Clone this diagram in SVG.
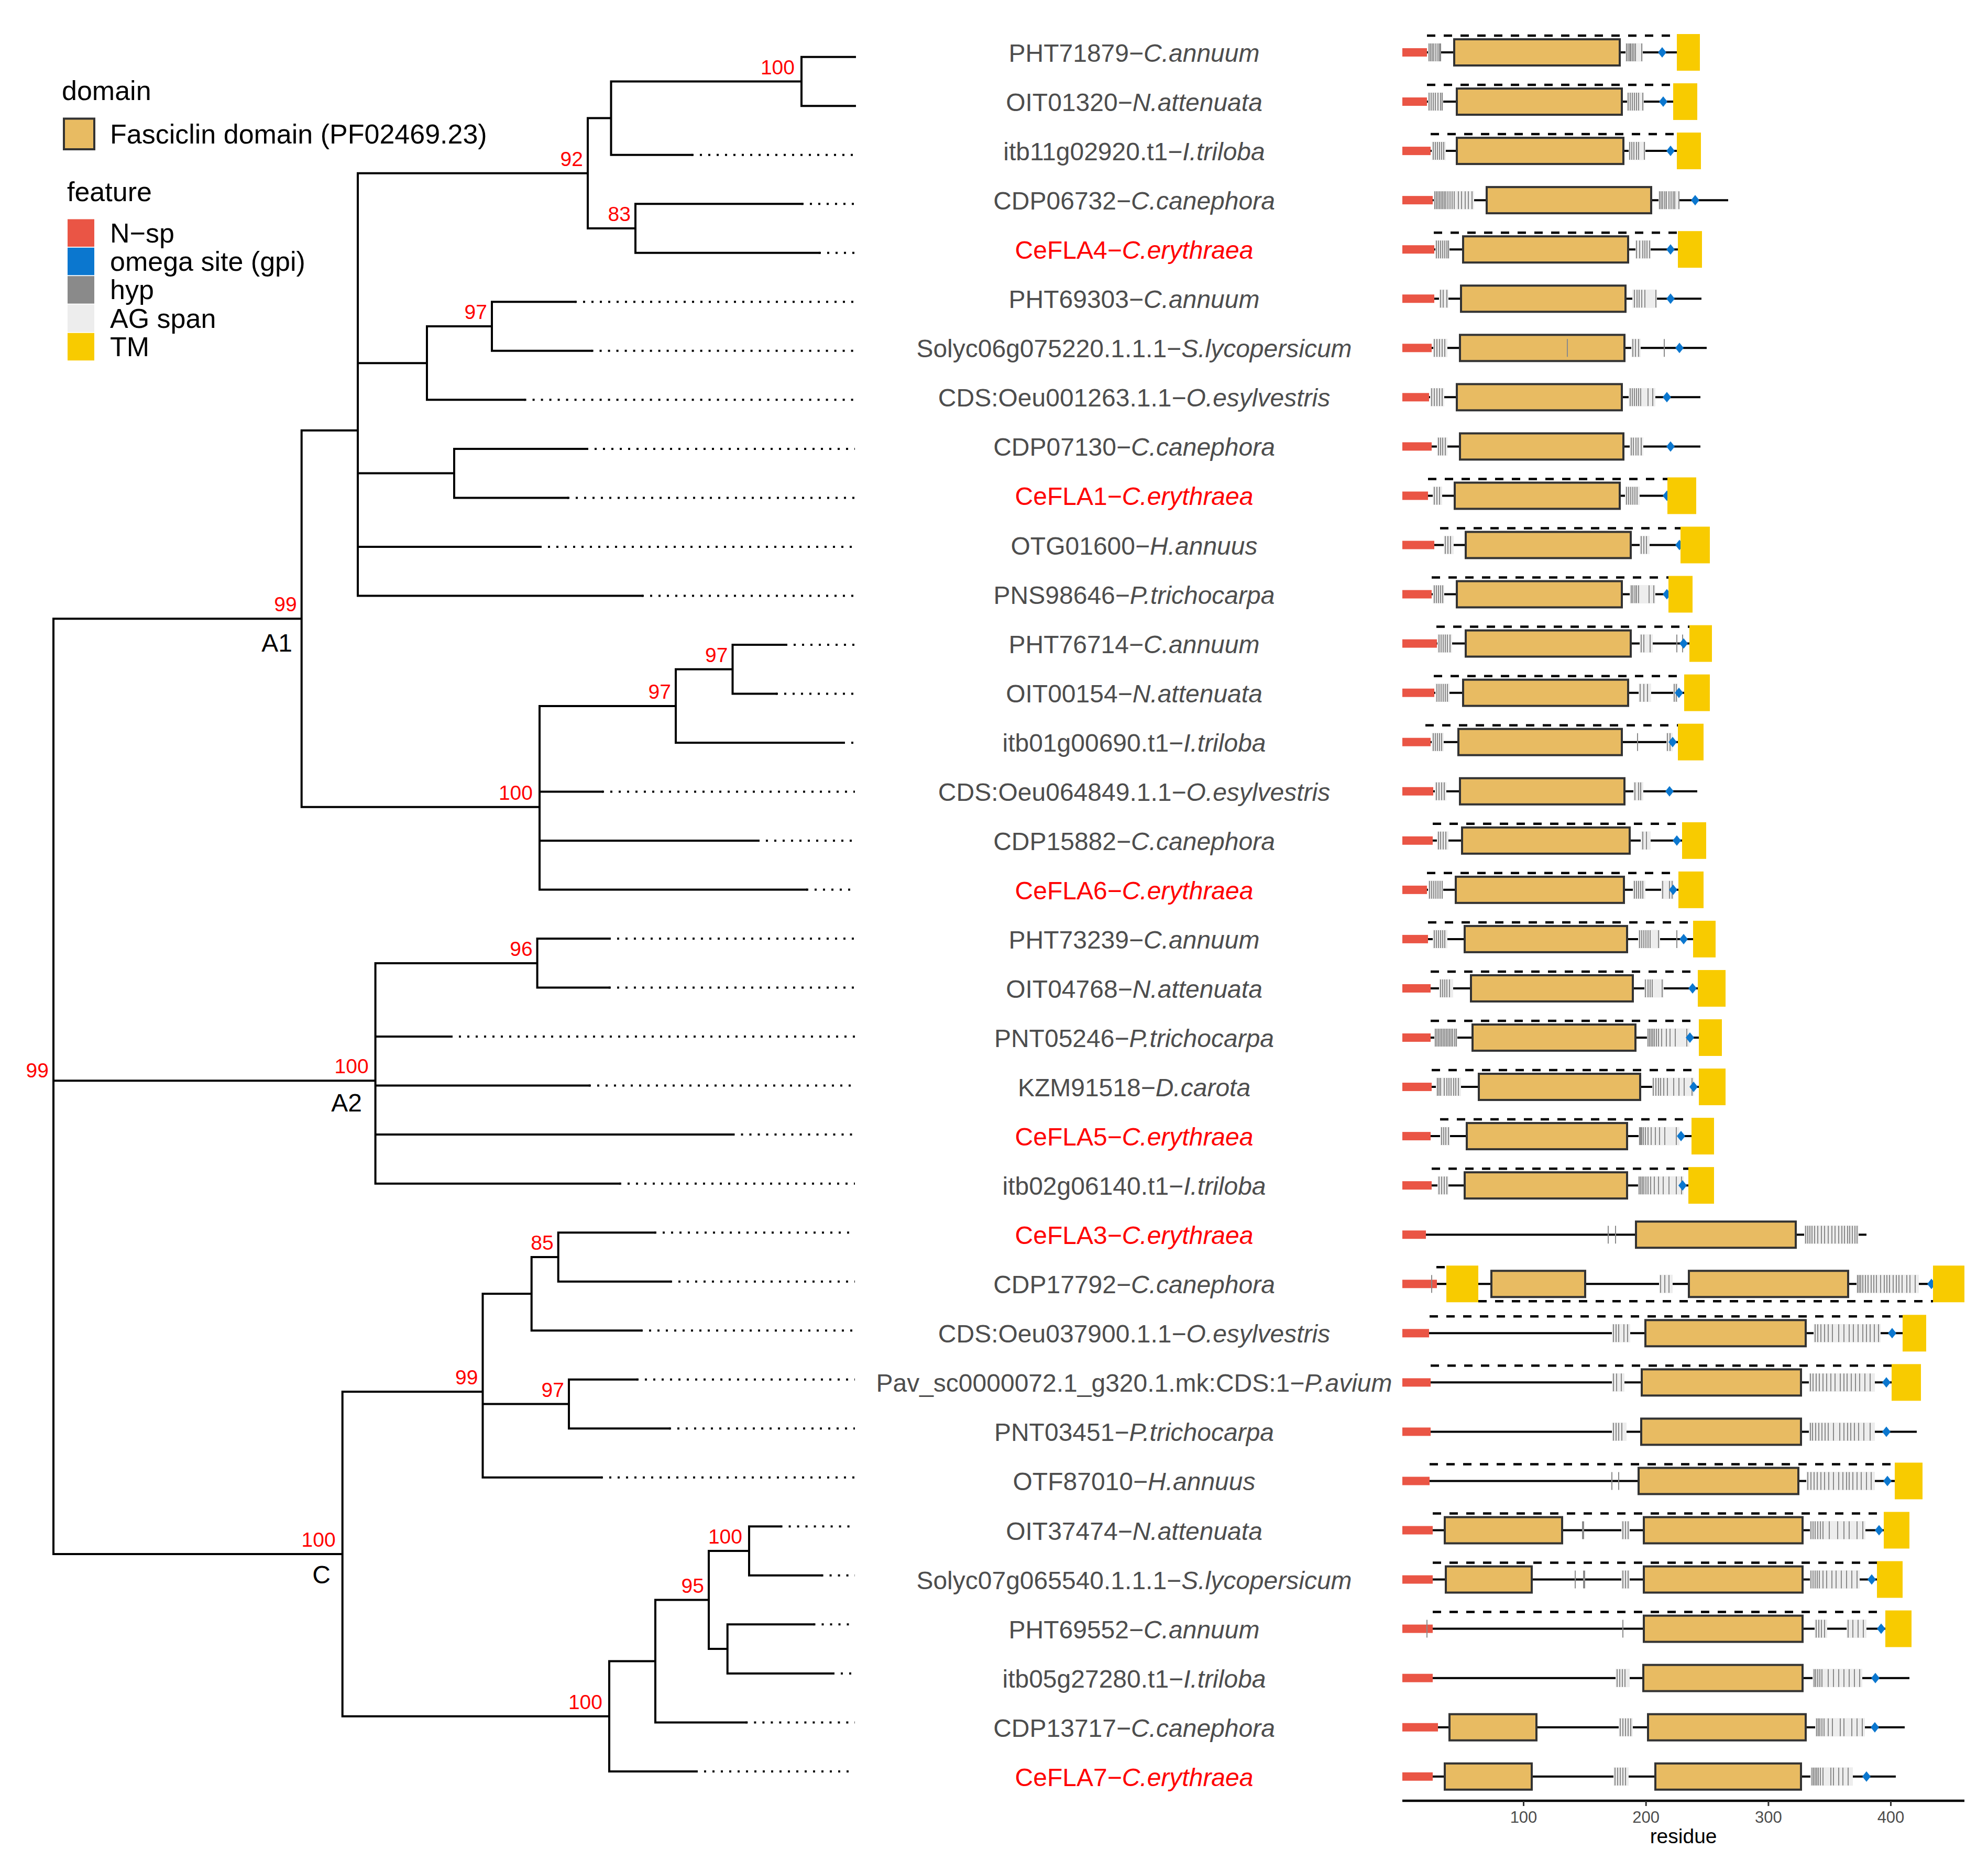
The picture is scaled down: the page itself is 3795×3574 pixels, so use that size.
<svg xmlns="http://www.w3.org/2000/svg" xmlns:xlink="http://www.w3.org/1999/xlink" width="3795" height="3574" viewBox="0 0 3795 3574">
<style>
text{font-family:"Liberation Sans",Arial,sans-serif}
.lab{font-size:48px;fill:#4D4D4D;text-anchor:middle}
.red{fill:#FF0000}
.it{font-style:italic}
.bb{stroke:#000;stroke-width:4;fill:none}
.ds{stroke:#000;stroke-width:4.5;stroke-dasharray:16 16;fill:none}
.nsp{fill:#EA5545}
.ag{fill:#EDEDED}
.hyp{stroke:#8A8A8A;stroke-width:2;fill:none}
.dom{fill:#E8BB62;stroke:#333;stroke-width:4}
.tm{fill:#F8CB00}
.br{stroke:#000;stroke-width:4;fill:none;stroke-linecap:square}
.dot{stroke:#000;stroke-width:4;fill:none;stroke-dasharray:4 12}
.bs{font-size:39px;fill:#FF0000;text-anchor:end}
.cl{font-size:48px;fill:#000;text-anchor:end}
.lg{font-size:52px;fill:#000}
.tk{font-size:31px;fill:#4D4D4D;text-anchor:middle}
</style>
<defs>
<path id="dia" d="M0-10L8 0L0 10L-8 0Z" fill="#0B77CF"/>
</defs>
<rect width="3795" height="3574" fill="#FFFFFF"/>

<g id="legend">
<text class="lg" x="118" y="191">domain</text>
<rect x="122" y="226.5" width="58" height="58.5" fill="#E8BB62" stroke="#333" stroke-width="4"/>
<text class="lg" x="210" y="274">Fasciclin domain (PF02469.23)</text>
<text class="lg" x="128" y="384">feature</text>
<rect x="129" y="418.5" width="51" height="52.5" fill="#EA5545"/>
<rect x="129" y="472.8" width="51" height="52.5" fill="#0B77CF"/>
<rect x="129" y="527.1" width="51" height="52.5" fill="#8A8A8A"/>
<rect x="129" y="581.4" width="51" height="52.5" fill="#EDEDED"/>
<rect x="129" y="635.7" width="51" height="52.5" fill="#F8CB00"/>
<text class="lg" x="210" y="463">N−sp</text>
<text class="lg" x="210" y="517">omega site (gpi)</text>
<text class="lg" x="210" y="571">hyp</text>
<text class="lg" x="210" y="625.5">AG span</text>
<text class="lg" x="210" y="679.5">TM</text>
</g>

<g id="connectors">
<path class="br" d="M102 1181.3V2966.9M102 1181.3H575.7M102 2063.3H716.6M102 2966.9H653.7M575.7 821.8V1540.7M575.7 821.8H683M575.7 1540.7H1030M683 330.8V1137.4M683 330.8H1122M683 693.2H815M683 903.6H867M683 1043.9H1030M683 1137.4H1225M1122 225.6V436M1122 225.6H1166.5M1122 436H1213M1166.5 155.5V295.7M1166.5 155.5H1530M1166.5 295.7H1320M1530 108.7V202.2M1530 108.7H1632M1530 202.2H1632M1213 389.3V482.8M1213 389.3H1530M1213 482.8H1563M815 623V763.3M815 623H939M815 763.3H1000.6M939 576.3V669.8M939 576.3H1097M939 669.8H1128.6M867 856.9V950.4M867 856.9H1119M867 950.4H1083M1030 1347.9V1698.5M1030 1347.9H1290M1030 1511.5H1149M1030 1605H1446M1030 1698.5H1539M1290 1277.7V1418M1290 1277.7H1398.5M1290 1418H1609M1398.5 1230.9V1324.5M1398.5 1230.9H1499M1398.5 1324.5H1481M716.6 1838.9V2259.7M716.6 1838.9H1025.6M716.6 1979.1H860M716.6 2072.6H1124M716.6 2166.1H1398.5M716.6 2259.7H1182M1025.6 1792.1V1885.6M1025.6 1792.1H1162M1025.6 1885.6H1162M653.7 2657.1V3276.7M653.7 2657.1H921.5M653.7 3276.7H1163M921.5 2470.1V2820.8M921.5 2470.1H1014.7M921.5 2680.5H1086M921.5 2820.8H1147M1014.7 2400V2540.2M1014.7 2400H1065.7M1014.7 2540.2H1223M1065.7 2353.2V2446.7M1065.7 2353.2H1249M1065.7 2446.7H1279M1086 2633.7V2727.3M1086 2633.7H1215M1086 2727.3H1277M1163 3171.5V3381.9M1163 3171.5H1251M1163 3381.9H1328M1251 3054.6V3288.4M1251 3054.6H1353M1251 3288.4H1423.4M1353 2961V3148.1M1353 2961H1430M1353 3148.1H1388.7M1430 2914.3V3007.8M1430 2914.3H1489.6M1430 3007.8H1567.6M1388.7 3101.3V3194.9M1388.7 3101.3H1552.5M1388.7 3194.9H1589"/>
<path class="dot" d="M1320 295.7H1632M1530 389.3H1632M1563 482.8H1632M1097 576.3H1632M1128.6 669.8H1632M1000.6 763.3H1632M1119 856.9H1632M1083 950.4H1632M1030 1043.9H1632M1225 1137.4H1632M1499 1230.9H1632M1481 1324.5H1632M1609 1418H1632M1149 1511.5H1632M1446 1605H1632M1539 1698.5H1632M1162 1792.1H1632M1162 1885.6H1632M860 1979.1H1632M1124 2072.6H1632M1398.5 2166.1H1632M1182 2259.7H1632M1249 2353.2H1632M1279 2446.7H1632M1223 2540.2H1632M1215 2633.7H1632M1277 2727.3H1632M1147 2820.8H1632M1489.6 2914.3H1632M1567.6 3007.8H1632M1552.5 3101.3H1632M1589 3194.9H1632M1423.4 3288.4H1632M1328 3381.9H1632"/>
</g>

<g id="support">
<text class="bs" x="1517" y="141.5">100</text>
<text class="bs" x="1113" y="316.8">92</text>
<text class="bs" x="1204" y="422">83</text>
<text class="bs" x="930" y="609">97</text>
<text class="bs" x="566.7" y="1167.3">99</text>
<text class="bs" x="1017" y="1526.7">100</text>
<text class="bs" x="1281" y="1333.9">97</text>
<text class="bs" x="1389.5" y="1263.7">97</text>
<text class="bs" x="1016.6" y="1824.9">96</text>
<text class="bs" x="703.6" y="2049.3">100</text>
<text class="bs" x="93" y="2056.5">99</text>
<text class="bs" x="1056.7" y="2386">85</text>
<text class="bs" x="912.5" y="2643.1">99</text>
<text class="bs" x="1077" y="2666.5">97</text>
<text class="bs" x="640.7" y="2952.9">100</text>
<text class="bs" x="1150" y="3262.7">100</text>
<text class="bs" x="1344" y="3040.6">95</text>
<text class="bs" x="1417" y="2947">100</text>
<text class="cl" x="558" y="1244">A1</text>
<text class="cl" x="691" y="2122">A2</text>
<text class="cl" x="631" y="3023">C</text>
</g>

<g id="r0" transform="translate(0,100)">
<text class="lab" x="2165" y="18">PHT71879−<tspan class="it">C.annuum</tspan></text>
<path class="bb" d="M2677 0H3245"/><path class="ds" d="M2724-32H3190"/>
<rect class="nsp" x="2677" y="-8" width="47" height="16"/>
<rect class="ag" x="2726" y="-17.5" width="25" height="35"/><rect class="ag" x="3103" y="-17.5" width="33" height="35"/>
<rect class="dom" x="2776" y="-25" width="316" height="50"/>
<path class="hyp" d="M2728-17v34M2731-17v34M2734-17v34M2737-17v34M2741-17v34M2745-17v34M2748-17v34M2750-17v34M3105-17v34M3108-17v34M3111-17v34M3113-17v34M3116-17v34M3119-17v34M3122-17v34M3134-17v34"/>
<use href="#dia" x="3173"/><rect class="tm" x="3201" y="-35" width="44" height="70"/>
</g>
<g id="r1" transform="translate(0,194.05)">
<text class="lab" x="2165" y="18">OIT01320−<tspan class="it">N.attenuata</tspan></text>
<path class="bb" d="M2677 0H3240"/><path class="ds" d="M2724-32H3190"/>
<rect class="nsp" x="2677" y="-8" width="47" height="16"/>
<rect class="ag" x="2726" y="-17.5" width="29" height="35"/><rect class="ag" x="3106" y="-17.5" width="32" height="35"/>
<rect class="dom" x="2781" y="-25" width="315" height="50"/>
<path class="hyp" d="M2728-17v34M2732-17v34M2736-17v34M2740-17v34M2745-17v34M2750-17v34M2753-17v34M3108-17v34M3112-17v34M3116-17v34M3120-17v34M3124-17v34M3128-17v34M3136-17v34"/>
<use href="#dia" x="3175"/><rect class="tm" x="3194" y="-35" width="46" height="70"/>
</g>
<g id="r2" transform="translate(0,288.1)">
<text class="lab" x="2165" y="18">itb11g02920.t1−<tspan class="it">I.triloba</tspan></text>
<path class="bb" d="M2677 0H3247"/><path class="ds" d="M2731-32H3196"/>
<rect class="nsp" x="2677" y="-8" width="54" height="16"/>
<rect class="ag" x="2733" y="-17.5" width="27" height="35"/><rect class="ag" x="3109" y="-17.5" width="32" height="35"/>
<rect class="dom" x="2781" y="-25" width="318" height="50"/>
<path class="hyp" d="M2736-17v34M2740-17v34M2744-17v34M2748-17v34M2752-17v34M2756-17v34M3111-17v34M3115-17v34M3119-17v34M3124-17v34M3128-17v34M3139-17v34"/>
<use href="#dia" x="3189"/><rect class="tm" x="3201" y="-35" width="46" height="70"/>
</g>
<g id="r3" transform="translate(0,382.15)">
<text class="lab" x="2165" y="18">CDP06732−<tspan class="it">C.canephora</tspan></text>
<path class="bb" d="M2677 0H3299"/>
<rect class="nsp" x="2677" y="-8" width="58" height="16"/>
<rect class="ag" x="2737" y="-17.5" width="77" height="35"/><rect class="ag" x="3166" y="-17.5" width="40" height="35"/>
<rect class="dom" x="2838" y="-25" width="314" height="50"/>
<path class="hyp" d="M2739-17v34M2742-17v34M2745-17v34M2748-17v34M2751-17v34M2754-17v34M2757-17v34M2760-17v34M2764-17v34M2768-17v34M2772-17v34M2776-17v34M2784-17v34M2790-17v34M2797-17v34M2803-17v34M2810-17v34M3168-17v34M3171-17v34M3174-17v34M3178-17v34M3181-17v34M3186-17v34M3190-17v34M3194-17v34M3197-17v34M3205-17v34"/>
<use href="#dia" x="3236"/>
</g>
<g id="r4" transform="translate(0,476.2)">
<text class="lab red" x="2165" y="18">CeFLA4−<tspan class="it">C.erythraea</tspan></text>
<path class="bb" d="M2677 0H3249"/><path class="ds" d="M2737-32H3201"/>
<rect class="nsp" x="2677" y="-8" width="61" height="16"/>
<rect class="ag" x="2740" y="-17.5" width="27" height="35"/><rect class="ag" x="3122" y="-17.5" width="29" height="35"/>
<rect class="dom" x="2793" y="-25" width="315" height="50"/>
<path class="hyp" d="M2742-17v34M2746-17v34M2750-17v34M2754-17v34M2758-17v34M2762-17v34M2765-17v34M3124-17v34M3130-17v34M3136-17v34M3140-17v34M3144-17v34M3149-17v34"/>
<use href="#dia" x="3189"/><rect class="tm" x="3203" y="-35" width="46" height="70"/>
</g>
<g id="r5" transform="translate(0,570.25)">
<text class="lab" x="2165" y="18">PHT69303−<tspan class="it">C.annuum</tspan></text>
<path class="bb" d="M2677 0H3248"/>
<rect class="nsp" x="2677" y="-8" width="61" height="16"/>
<rect class="ag" x="2747" y="-17.5" width="18" height="35"/><rect class="ag" x="3116" y="-17.5" width="47" height="35"/>
<rect class="dom" x="2789" y="-25" width="314" height="50"/>
<path class="hyp" d="M2750-17v34M2755-17v34M2762-17v34M3120-17v34M3125-17v34M3129-17v34M3134-17v34M3140-17v34M3161-17v34"/>
<use href="#dia" x="3189"/>
</g>
<g id="r6" transform="translate(0,664.3)">
<text class="lab" x="2165" y="18">Solyc06g075220.1.1.1−<tspan class="it">S.lycopersicum</tspan></text>
<path class="bb" d="M2677 0H3258"/>
<rect class="nsp" x="2677" y="-8" width="56" height="16"/>
<rect class="ag" x="2736" y="-17.5" width="27" height="35"/><rect class="ag" x="3114" y="-17.5" width="18" height="35"/>
<rect class="dom" x="2787" y="-25" width="314" height="50"/>
<path class="hyp" d="M2738-17v34M2743-17v34M2748-17v34M2753-17v34M2758-17v34M2992-17v34M3117-17v34M3122-17v34M3128-17v34M3177-17v34"/>
<use href="#dia" x="3206"/>
</g>
<g id="r7" transform="translate(0,758.35)">
<text class="lab" x="2165" y="18">CDS:Oeu001263.1.1−<tspan class="it">O.esylvestris</tspan></text>
<path class="bb" d="M2677 0H3246"/>
<rect class="nsp" x="2677" y="-8" width="51" height="16"/>
<rect class="ag" x="2730" y="-17.5" width="27" height="35"/><rect class="ag" x="3109" y="-17.5" width="51" height="35"/>
<rect class="dom" x="2781" y="-25" width="315" height="50"/>
<path class="hyp" d="M2733-17v34M2738-17v34M2743-17v34M2748-17v34M2753-17v34M3112-17v34M3116-17v34M3120-17v34M3124-17v34M3128-17v34M3132-17v34M3146-17v34M3155-17v34"/>
<use href="#dia" x="3182"/>
</g>
<g id="r8" transform="translate(0,852.4)">
<text class="lab" x="2165" y="18">CDP07130−<tspan class="it">C.canephora</tspan></text>
<path class="bb" d="M2677 0H3246"/>
<rect class="nsp" x="2677" y="-8" width="56" height="16"/>
<rect class="ag" x="2743" y="-17.5" width="20" height="35"/><rect class="ag" x="3111" y="-17.5" width="26" height="35"/>
<rect class="dom" x="2787" y="-25" width="312" height="50"/>
<path class="hyp" d="M2746-17v34M2750-17v34M2754-17v34M2759-17v34M3114-17v34M3118-17v34M3123-17v34M3127-17v34M3133-17v34"/>
<use href="#dia" x="3189"/>
</g>
<g id="r9" transform="translate(0,946.45)">
<text class="lab red" x="2165" y="18">CeFLA1−<tspan class="it">C.erythraea</tspan></text>
<path class="bb" d="M2677 0H3238"/><path class="ds" d="M2726-32H3185"/>
<rect class="nsp" x="2677" y="-8" width="49" height="16"/>
<rect class="ag" x="2735" y="-17.5" width="18" height="35"/><rect class="ag" x="3102" y="-17.5" width="28" height="35"/>
<rect class="dom" x="2777" y="-25" width="315" height="50"/>
<path class="hyp" d="M2738-17v34M2743-17v34M2748-17v34M3105-17v34M3109-17v34M3113-17v34M3117-17v34M3121-17v34M3125-17v34"/>
<use href="#dia" x="3182"/><rect class="tm" x="3183" y="-35" width="55" height="70"/>
</g>
<g id="r10" transform="translate(0,1040.5)">
<text class="lab" x="2165" y="18">OTG01600−<tspan class="it">H.annuus</tspan></text>
<path class="bb" d="M2677 0H3264"/><path class="ds" d="M2749-32H3211"/>
<rect class="nsp" x="2677" y="-8" width="61" height="16"/>
<rect class="ag" x="2756" y="-17.5" width="19" height="35"/><rect class="ag" x="3130" y="-17.5" width="19" height="35"/>
<rect class="dom" x="2798" y="-25" width="315" height="50"/>
<path class="hyp" d="M2759-17v34M2764-17v34M2769-17v34M3133-17v34M3138-17v34M3143-17v34"/>
<use href="#dia" x="3206"/><rect class="tm" x="3208" y="-35" width="56" height="70"/>
</g>
<g id="r11" transform="translate(0,1134.55)">
<text class="lab" x="2165" y="18">PNS98646−<tspan class="it">P.trichocarpa</tspan></text>
<path class="bb" d="M2677 0H3231"/><path class="ds" d="M2733-32H3187"/>
<rect class="nsp" x="2677" y="-8" width="56" height="16"/>
<rect class="ag" x="2735" y="-17.5" width="22" height="35"/><rect class="ag" x="3111" y="-17.5" width="49" height="35"/>
<rect class="dom" x="2781" y="-25" width="315" height="50"/>
<path class="hyp" d="M2738-17v34M2742-17v34M2746-17v34M2750-17v34M2754-17v34M3114-17v34M3117-17v34M3121-17v34M3124-17v34M3128-17v34M3148-17v34M3157-17v34"/>
<use href="#dia" x="3182"/><rect class="tm" x="3185" y="-35" width="46" height="70"/>
</g>
<g id="r12" transform="translate(0,1228.6)">
<text class="lab" x="2165" y="18">PHT76714−<tspan class="it">C.annuum</tspan></text>
<path class="bb" d="M2677 0H3268"/><path class="ds" d="M2742-32H3227"/>
<rect class="nsp" x="2677" y="-8" width="66" height="16"/>
<rect class="ag" x="2744" y="-17.5" width="28" height="35"/><rect class="ag" x="3130" y="-17.5" width="25" height="35"/>
<rect class="dom" x="2798" y="-25" width="315" height="50"/>
<path class="hyp" d="M2747-17v34M2751-17v34M2755-17v34M2759-17v34M2763-17v34M2768-17v34M3133-17v34M3138-17v34M3150-17v34M3201-17v34M3212-17v34"/>
<use href="#dia" x="3214"/><rect class="tm" x="3225" y="-35" width="43" height="70"/>
</g>
<g id="r13" transform="translate(0,1322.65)">
<text class="lab" x="2165" y="18">OIT00154−<tspan class="it">N.attenuata</tspan></text>
<path class="bb" d="M2677 0H3264"/><path class="ds" d="M2737-32H3203"/>
<rect class="nsp" x="2677" y="-8" width="61" height="16"/>
<rect class="ag" x="2740" y="-17.5" width="27" height="35"/><rect class="ag" x="3128" y="-17.5" width="24" height="35"/><rect class="ag" x="3194" y="-17.5" width="9" height="35"/>
<rect class="dom" x="2793" y="-25" width="315" height="50"/>
<path class="hyp" d="M2743-17v34M2747-17v34M2751-17v34M2755-17v34M2759-17v34M2763-17v34M3131-17v34M3138-17v34M3145-17v34M3196-17v34M3200-17v34"/>
<use href="#dia" x="3205"/><rect class="tm" x="3215" y="-35" width="49" height="70"/>
</g>
<g id="r14" transform="translate(0,1416.7)">
<text class="lab" x="2165" y="18">itb01g00690.t1−<tspan class="it">I.triloba</tspan></text>
<path class="bb" d="M2677 0H3252"/><path class="ds" d="M2721-32H3205"/>
<rect class="nsp" x="2677" y="-8" width="54" height="16"/>
<rect class="ag" x="2733" y="-17.5" width="23" height="35"/><rect class="ag" x="3181" y="-17.5" width="12" height="35"/>
<rect class="dom" x="2784" y="-25" width="312" height="50"/>
<path class="hyp" d="M2736-17v34M2740-17v34M2744-17v34M2748-17v34M2752-17v34M3126-17v34M3183-17v34M3188-17v34"/>
<use href="#dia" x="3193"/><rect class="tm" x="3203" y="-35" width="49" height="70"/>
</g>
<g id="r15" transform="translate(0,1510.75)">
<text class="lab" x="2165" y="18">CDS:Oeu064849.1.1−<tspan class="it">O.esylvestris</tspan></text>
<path class="bb" d="M2677 0H3240"/>
<rect class="nsp" x="2677" y="-8" width="59" height="16"/>
<rect class="ag" x="2739" y="-17.5" width="22" height="35"/><rect class="ag" x="3118" y="-17.5" width="19" height="35"/>
<rect class="dom" x="2787" y="-25" width="314" height="50"/>
<path class="hyp" d="M2742-17v34M2747-17v34M2752-17v34M2757-17v34M3121-17v34M3128-17v34M3132-17v34"/>
<use href="#dia" x="3187"/>
</g>
<g id="r16" transform="translate(0,1604.8)">
<text class="lab" x="2165" y="18">CDP15882−<tspan class="it">C.canephora</tspan></text>
<path class="bb" d="M2677 0H3257"/><path class="ds" d="M2735-32H3201"/>
<rect class="nsp" x="2677" y="-8" width="58" height="16"/>
<rect class="ag" x="2743" y="-17.5" width="22" height="35"/><rect class="ag" x="3132" y="-17.5" width="19" height="35"/>
<rect class="dom" x="2791" y="-25" width="320" height="50"/>
<path class="hyp" d="M2746-17v34M2750-17v34M2755-17v34M2760-17v34M3136-17v34M3143-17v34"/>
<use href="#dia" x="3201"/><rect class="tm" x="3211" y="-35" width="46" height="70"/>
</g>
<g id="r17" transform="translate(0,1698.85)">
<text class="lab red" x="2165" y="18">CeFLA6−<tspan class="it">C.erythraea</tspan></text>
<path class="bb" d="M2677 0H3252"/><path class="ds" d="M2724-32H3205"/>
<rect class="nsp" x="2677" y="-8" width="47" height="16"/>
<rect class="ag" x="2726" y="-17.5" width="29" height="35"/><rect class="ag" x="3117" y="-17.5" width="24" height="35"/><rect class="ag" x="3171" y="-17.5" width="24" height="35"/>
<rect class="dom" x="2779" y="-25" width="321" height="50"/>
<path class="hyp" d="M2729-17v34M2733-17v34M2737-17v34M2741-17v34M2745-17v34M2749-17v34M2753-17v34M3120-17v34M3124-17v34M3128-17v34M3132-17v34M3136-17v34M3174-17v34M3187-17v34M3192-17v34"/>
<use href="#dia" x="3194"/><rect class="tm" x="3204" y="-35" width="48" height="70"/>
</g>
<g id="r18" transform="translate(0,1792.9)">
<text class="lab" x="2165" y="18">PHT73239−<tspan class="it">C.annuum</tspan></text>
<path class="bb" d="M2677 0H3275"/><path class="ds" d="M2726-32H3223"/>
<rect class="nsp" x="2677" y="-8" width="49" height="16"/>
<rect class="ag" x="2735" y="-17.5" width="28" height="35"/><rect class="ag" x="3127" y="-17.5" width="42" height="35"/>
<rect class="dom" x="2796" y="-25" width="310" height="50"/>
<path class="hyp" d="M2738-17v34M2742-17v34M2746-17v34M2750-17v34M2754-17v34M2758-17v34M3130-17v34M3134-17v34M3138-17v34M3142-17v34M3146-17v34M3150-17v34M3166-17v34M3201-17v34"/>
<use href="#dia" x="3214"/><rect class="tm" x="3232" y="-35" width="43" height="70"/>
</g>
<g id="r19" transform="translate(0,1886.95)">
<text class="lab" x="2165" y="18">OIT04768−<tspan class="it">N.attenuata</tspan></text>
<path class="bb" d="M2677 0H3294"/><path class="ds" d="M2731-32H3241"/>
<rect class="nsp" x="2677" y="-8" width="54" height="16"/>
<rect class="ag" x="2747" y="-17.5" width="27" height="35"/><rect class="ag" x="3139" y="-17.5" width="37" height="35"/>
<rect class="dom" x="2808" y="-25" width="309" height="50"/>
<path class="hyp" d="M2750-17v34M2754-17v34M2758-17v34M2762-17v34M2767-17v34M3141-17v34M3146-17v34M3150-17v34M3154-17v34M3173-17v34"/>
<use href="#dia" x="3231"/><rect class="tm" x="3241" y="-35" width="53" height="70"/>
</g>
<g id="r20" transform="translate(0,1981)">
<text class="lab" x="2165" y="18">PNT05246−<tspan class="it">P.trichocarpa</tspan></text>
<path class="bb" d="M2677 0H3287"/><path class="ds" d="M2731-32H3245"/>
<rect class="nsp" x="2677" y="-8" width="54" height="16"/>
<rect class="ag" x="2738" y="-17.5" width="44" height="35"/><rect class="ag" x="3144" y="-17.5" width="81" height="35"/>
<rect class="dom" x="2811" y="-25" width="311" height="50"/>
<path class="hyp" d="M2740-17v34M2743-17v34M2746-17v34M2749-17v34M2752-17v34M2755-17v34M2758-17v34M2761-17v34M2764-17v34M2767-17v34M2770-17v34M2773-17v34M2777-17v34M2780-17v34M3146-17v34M3149-17v34M3152-17v34M3155-17v34M3158-17v34M3162-17v34M3166-17v34M3172-17v34M3181-17v34M3188-17v34M3198-17v34M3220-17v34"/>
<use href="#dia" x="3226"/><rect class="tm" x="3243" y="-35" width="44" height="70"/>
</g>
<g id="r21" transform="translate(0,2075.05)">
<text class="lab" x="2165" y="18">KZM91518−<tspan class="it">D.carota</tspan></text>
<path class="bb" d="M2677 0H3294"/><path class="ds" d="M2733-32H3231"/>
<rect class="nsp" x="2677" y="-8" width="56" height="16"/>
<rect class="ag" x="2741" y="-17.5" width="48" height="35"/><rect class="ag" x="3154" y="-17.5" width="80" height="35"/>
<rect class="dom" x="2823" y="-25" width="308" height="50"/>
<path class="hyp" d="M2744-17v34M2747-17v34M2750-17v34M2757-17v34M2762-17v34M2766-17v34M2770-17v34M2775-17v34M2779-17v34M2784-17v34M3156-17v34M3161-17v34M3166-17v34M3170-17v34M3176-17v34M3183-17v34M3195-17v34M3205-17v34M3215-17v34M3230-17v34"/>
<use href="#dia" x="3233"/><rect class="tm" x="3243" y="-35" width="51" height="70"/>
</g>
<g id="r22" transform="translate(0,2169.1)">
<text class="lab red" x="2165" y="18">CeFLA5−<tspan class="it">C.erythraea</tspan></text>
<path class="bb" d="M2677 0H3272"/><path class="ds" d="M2749-32H3214"/>
<rect class="nsp" x="2677" y="-8" width="54" height="16"/>
<rect class="ag" x="2749" y="-17.5" width="19" height="35"/><rect class="ag" x="3128" y="-17.5" width="78" height="35"/>
<rect class="dom" x="2800" y="-25" width="306" height="50"/>
<path class="hyp" d="M2752-17v34M2756-17v34M2760-17v34M2765-17v34M3130-17v34M3132-17v34M3134-17v34M3137-17v34M3141-17v34M3146-17v34M3152-17v34M3160-17v34M3168-17v34M3178-17v34M3200-17v34"/>
<use href="#dia" x="3209"/><rect class="tm" x="3229" y="-35" width="43" height="70"/>
</g>
<g id="r23" transform="translate(0,2263.15)">
<text class="lab" x="2165" y="18">itb02g06140.t1−<tspan class="it">I.triloba</tspan></text>
<path class="bb" d="M2677 0H3272"/><path class="ds" d="M2733-32H3223"/>
<rect class="nsp" x="2677" y="-8" width="56" height="16"/>
<rect class="ag" x="2744" y="-17.5" width="21" height="35"/><rect class="ag" x="3127" y="-17.5" width="87" height="35"/>
<rect class="dom" x="2796" y="-25" width="310" height="50"/>
<path class="hyp" d="M2747-17v34M2752-17v34M2757-17v34M2762-17v34M3129-17v34M3132-17v34M3135-17v34M3138-17v34M3142-17v34M3146-17v34M3151-17v34M3158-17v34M3166-17v34M3175-17v34M3186-17v34M3200-17v34M3210-17v34"/>
<use href="#dia" x="3212"/><rect class="tm" x="3223" y="-35" width="49" height="70"/>
</g>
<g id="r24" transform="translate(0,2357.2)">
<text class="lab red" x="2165" y="18">CeFLA3−<tspan class="it">C.erythraea</tspan></text>
<path class="bb" d="M2677 0H3563"/>
<rect class="nsp" x="2677" y="-8" width="45" height="16"/>
<rect class="ag" x="3444" y="-17.5" width="104" height="35"/>
<rect class="dom" x="3123" y="-25" width="305" height="50"/>
<path class="hyp" d="M3070-17v34M3084-17v34M3447-17v34M3451-17v34M3455-17v34M3459-17v34M3464-17v34M3470-17v34M3477-17v34M3483-17v34M3490-17v34M3497-17v34M3503-17v34M3510-17v34M3516-17v34M3521-17v34M3527-17v34M3531-17v34M3536-17v34M3541-17v34M3545-17v34"/>
</g>
<g id="r25" transform="translate(0,2451.25)">
<text class="lab" x="2165" y="18">CDP17792−<tspan class="it">C.canephora</tspan></text>
<path class="bb" d="M2677 0H3750"/><path class="ds" d="M2742-32H2758M2822 33H3690"/>
<rect class="nsp" x="2677" y="-8" width="66" height="16"/>
<rect class="ag" x="3167" y="-17.5" width="26" height="35"/><rect class="ag" x="3544" y="-17.5" width="119" height="35"/>
<rect class="dom" x="2847" y="-25" width="179" height="50"/><rect class="dom" x="3224" y="-25" width="304" height="50"/>
<path class="hyp" d="M2733-17v34M3170-17v34M3178-17v34M3186-17v34M3546-17v34M3549-17v34M3552-17v34M3556-17v34M3561-17v34M3566-17v34M3572-17v34M3577-17v34M3582-17v34M3590-17v34M3597-17v34M3602-17v34M3607-17v34M3614-17v34M3620-17v34M3625-17v34M3631-17v34M3640-17v34M3646-17v34M3656-17v34"/>
<rect class="tm" x="2761" y="-35" width="61" height="70"/>
<use href="#dia" x="3687"/><rect class="tm" x="3690" y="-35" width="60" height="70"/>
</g>
<g id="r26" transform="translate(0,2545.3)">
<text class="lab" x="2165" y="18">CDS:Oeu037900.1.1−<tspan class="it">O.esylvestris</tspan></text>
<path class="bb" d="M2677 0H3677"/><path class="ds" d="M2729-32H3632"/>
<rect class="nsp" x="2677" y="-8" width="51" height="16"/>
<rect class="ag" x="3077" y="-17.5" width="35" height="35"/><rect class="ag" x="3462" y="-17.5" width="128" height="35"/>
<rect class="dom" x="3141" y="-25" width="306" height="50"/>
<path class="hyp" d="M3080-17v34M3085-17v34M3090-17v34M3100-17v34M3107-17v34M3465-17v34M3470-17v34M3476-17v34M3483-17v34M3490-17v34M3498-17v34M3510-17v34M3520-17v34M3530-17v34M3538-17v34M3547-17v34M3556-17v34M3563-17v34M3570-17v34M3578-17v34M3586-17v34"/>
<use href="#dia" x="3612"/><rect class="tm" x="3632" y="-35" width="45" height="70"/>
</g>
<g id="r27" transform="translate(0,2639.35)">
<text class="lab" x="2165" y="18">Pav_sc0000072.1_g320.1.mk:CDS:1−<tspan class="it">P.avium</tspan></text>
<path class="bb" d="M2677 0H3667"/><path class="ds" d="M2731-32H3611"/>
<rect class="nsp" x="2677" y="-8" width="54" height="16"/>
<rect class="ag" x="3077" y="-17.5" width="24" height="35"/><rect class="ag" x="3453" y="-17.5" width="126" height="35"/>
<rect class="dom" x="3134" y="-25" width="304" height="50"/>
<path class="hyp" d="M3080-17v34M3086-17v34M3095-17v34M3456-17v34M3461-17v34M3467-17v34M3473-17v34M3480-17v34M3487-17v34M3495-17v34M3503-17v34M3513-17v34M3520-17v34M3526-17v34M3534-17v34M3542-17v34M3550-17v34M3560-17v34M3570-17v34"/>
<use href="#dia" x="3601"/><rect class="tm" x="3611" y="-35" width="56" height="70"/>
</g>
<g id="r28" transform="translate(0,2733.4)">
<text class="lab" x="2165" y="18">PNT03451−<tspan class="it">P.trichocarpa</tspan></text>
<path class="bb" d="M2677 0H3659"/>
<rect class="nsp" x="2677" y="-8" width="54" height="16"/>
<rect class="ag" x="3077" y="-17.5" width="28" height="35"/><rect class="ag" x="3453" y="-17.5" width="126" height="35"/>
<rect class="dom" x="3133" y="-25" width="305" height="50"/>
<path class="hyp" d="M3080-17v34M3085-17v34M3090-17v34M3096-17v34M3456-17v34M3460-17v34M3466-17v34M3472-17v34M3478-17v34M3484-17v34M3490-17v34M3500-17v34M3512-17v34M3520-17v34M3527-17v34M3533-17v34M3540-17v34M3548-17v34M3558-17v34M3570-17v34"/>
<use href="#dia" x="3601"/>
</g>
<g id="r29" transform="translate(0,2827.45)">
<text class="lab" x="2165" y="18">OTF87010−<tspan class="it">H.annuus</tspan></text>
<path class="bb" d="M2677 0H3670"/><path class="ds" d="M2729-32H3617"/>
<rect class="nsp" x="2677" y="-8" width="52" height="16"/>
<rect class="ag" x="3448" y="-17.5" width="131" height="35"/>
<rect class="dom" x="3128" y="-25" width="305" height="50"/>
<path class="hyp" d="M3077-17v34M3090-17v34M3451-17v34M3457-17v34M3463-17v34M3469-17v34M3476-17v34M3483-17v34M3491-17v34M3500-17v34M3510-17v34M3518-17v34M3525-17v34M3530-17v34M3537-17v34M3545-17v34M3553-17v34M3563-17v34M3572-17v34"/>
<use href="#dia" x="3603"/><rect class="tm" x="3617" y="-35" width="53" height="70"/>
</g>
<g id="r30" transform="translate(0,2921.5)">
<text class="lab" x="2165" y="18">OIT37474−<tspan class="it">N.attenuata</tspan></text>
<path class="bb" d="M2677 0H3645"/><path class="ds" d="M2735-32H3596"/>
<rect class="nsp" x="2677" y="-8" width="58" height="16"/>
<rect class="ag" x="3095" y="-17.5" width="16" height="35"/><rect class="ag" x="3455" y="-17.5" width="106" height="35"/>
<rect class="dom" x="2758" y="-25" width="224" height="50"/><rect class="dom" x="3138" y="-25" width="303" height="50"/>
<path class="hyp" d="M3021-17v34M3023-17v34M3098-17v34M3103-17v34M3108-17v34M3457-17v34M3461-17v34M3465-17v34M3470-17v34M3475-17v34M3480-17v34M3492-17v34M3508-17v34M3520-17v34M3530-17v34M3545-17v34M3556-17v34"/>
<use href="#dia" x="3587"/><rect class="tm" x="3596" y="-35" width="49" height="70"/>
</g>
<g id="r31" transform="translate(0,3015.55)">
<text class="lab" x="2165" y="18">Solyc07g065540.1.1.1−<tspan class="it">S.lycopersicum</tspan></text>
<path class="bb" d="M2677 0H3632"/><path class="ds" d="M2735-32H3583"/>
<rect class="nsp" x="2677" y="-8" width="58" height="16"/>
<rect class="ag" x="3095" y="-17.5" width="16" height="35"/><rect class="ag" x="3455" y="-17.5" width="95" height="35"/>
<rect class="dom" x="2760" y="-25" width="164" height="50"/><rect class="dom" x="3138" y="-25" width="303" height="50"/>
<path class="hyp" d="M3007-17v34M3023-17v34M3025-17v34M3098-17v34M3103-17v34M3108-17v34M3457-17v34M3461-17v34M3465-17v34M3469-17v34M3473-17v34M3480-17v34M3487-17v34M3497-17v34M3505-17v34M3515-17v34M3525-17v34M3535-17v34M3545-17v34"/>
<use href="#dia" x="3573"/><rect class="tm" x="3583" y="-35" width="49" height="70"/>
</g>
<g id="r32" transform="translate(0,3109.6)">
<text class="lab" x="2165" y="18">PHT69552−<tspan class="it">C.annuum</tspan></text>
<path class="bb" d="M2677 0H3649"/><path class="ds" d="M2735-32H3599"/>
<rect class="nsp" x="2677" y="-8" width="58" height="16"/>
<rect class="ag" x="3464" y="-17.5" width="24" height="35"/><rect class="ag" x="3525" y="-17.5" width="38" height="35"/>
<rect class="dom" x="3138" y="-25" width="303" height="50"/>
<path class="hyp" d="M2724-17v34M3098-17v34M3467-17v34M3472-17v34M3477-17v34M3483-17v34M3528-17v34M3537-17v34M3547-17v34M3557-17v34"/>
<use href="#dia" x="3591"/><rect class="tm" x="3599" y="-35" width="50" height="70"/>
</g>
<g id="r33" transform="translate(0,3203.65)">
<text class="lab" x="2165" y="18">itb05g27280.t1−<tspan class="it">I.triloba</tspan></text>
<path class="bb" d="M2677 0H3645"/>
<rect class="nsp" x="2677" y="-8" width="58" height="16"/>
<rect class="ag" x="3084" y="-17.5" width="27" height="35"/><rect class="ag" x="3460" y="-17.5" width="95" height="35"/>
<rect class="dom" x="3137" y="-25" width="304" height="50"/>
<path class="hyp" d="M3087-17v34M3092-17v34M3097-17v34M3102-17v34M3463-17v34M3466-17v34M3470-17v34M3474-17v34M3478-17v34M3490-17v34M3500-17v34M3510-17v34M3520-17v34M3530-17v34M3540-17v34M3550-17v34"/>
<use href="#dia" x="3580"/>
</g>
<g id="r34" transform="translate(0,3297.7)">
<text class="lab" x="2165" y="18">CDP13717−<tspan class="it">C.canephora</tspan></text>
<path class="bb" d="M2677 0H3636"/>
<rect class="nsp" x="2677" y="-8" width="68" height="16"/>
<rect class="ag" x="3090" y="-17.5" width="27" height="35"/><rect class="ag" x="3465" y="-17.5" width="95" height="35"/>
<rect class="dom" x="2767" y="-25" width="166" height="50"/><rect class="dom" x="3146" y="-25" width="301" height="50"/>
<path class="hyp" d="M3093-17v34M3098-17v34M3103-17v34M3108-17v34M3113-17v34M3468-17v34M3471-17v34M3474-17v34M3478-17v34M3482-17v34M3490-17v34M3498-17v34M3513-17v34M3520-17v34M3535-17v34M3545-17v34M3555-17v34"/>
<use href="#dia" x="3579"/>
</g>
<g id="r35" transform="translate(0,3391.75)">
<text class="lab red" x="2165" y="18">CeFLA7−<tspan class="it">C.erythraea</tspan></text>
<path class="bb" d="M2677 0H3619"/>
<rect class="nsp" x="2677" y="-8" width="58" height="16"/>
<rect class="ag" x="3080" y="-17.5" width="29" height="35"/><rect class="ag" x="3456" y="-17.5" width="81" height="35"/>
<rect class="dom" x="2758" y="-25" width="166" height="50"/><rect class="dom" x="3160" y="-25" width="278" height="50"/>
<path class="hyp" d="M3083-17v34M3088-17v34M3093-17v34M3098-17v34M3103-17v34M3459-17v34M3462-17v34M3465-17v34M3468-17v34M3471-17v34M3475-17v34M3480-17v34M3495-17v34M3500-17v34M3510-17v34M3518-17v34M3528-17v34"/>
<use href="#dia" x="3563"/>
</g>

<g id="axis">
<path d="M2677 3438H3750" stroke="#000" stroke-width="4.4" fill="none"/>
<path d="M2908.5 3438V3448M3142.2 3438V3448M3375.9 3438V3448M3609.5 3438V3448" stroke="#333" stroke-width="3" fill="none"/>
<text class="tk" x="2908.5" y="3480">100</text>
<text class="tk" x="3142.2" y="3480">200</text>
<text class="tk" x="3375.9" y="3480">300</text>
<text class="tk" x="3609.5" y="3480">400</text>
<text x="3213.6" y="3519" font-size="39" fill="#000" text-anchor="middle">residue</text>
</g>
</svg>
